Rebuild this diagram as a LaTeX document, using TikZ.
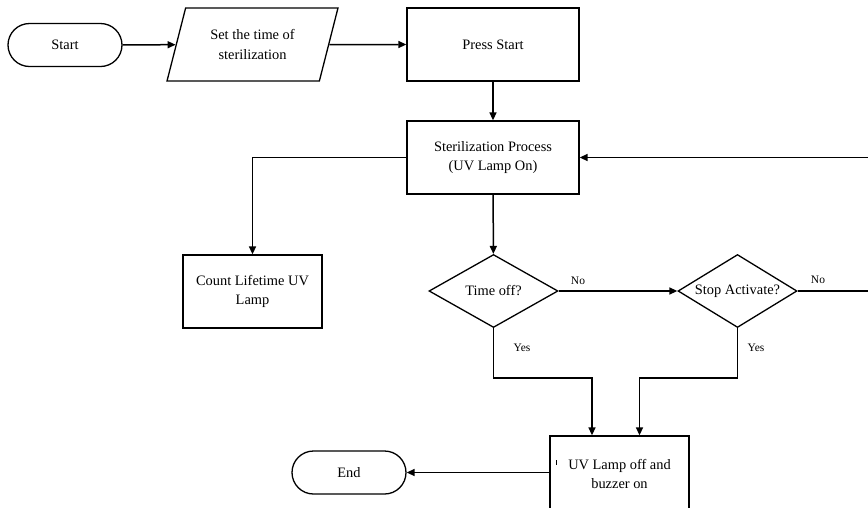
\documentclass[tikz,border=0pt]{standalone}
\usepackage{fontspec}
\setmainfont{Liberation Serif}
\usetikzlibrary{shapes.geometric,shapes.misc,arrows.meta}

\tikzset{
  base/.style={draw, line width=1.3pt, inner sep=2pt, align=center,
    font=\fontsize{14.4}{19.5}\selectfont},
  terminal/.style={base, rounded rectangle, minimum width=118pt, minimum height=43pt},
  process/.style={base, rectangle, minimum width=#1, minimum height=73pt},
  process/.default=172pt,
  io/.style={base, trapezium, trapezium left angle=70, trapezium right angle=110,
    trapezium stretches=true, minimum width=171pt, minimum height=73pt},
  decision/.style={base, diamond, inner sep=0pt, minimum height=73pt},
  flow/.style={line width=1.5pt, -{Triangle[length=8pt,width=7pt]}},
  lbl/.style={font=\fontsize{11.5}{13}\selectfont, inner sep=0pt}
}
% text of zero width, so a diamond keeps the size it is given
\newcommand{\slim}[1]{\makebox[0pt]{#1}}

\begin{document}
\begin{tikzpicture}[x=1pt,y=-1pt]
  \useasboundingbox (0,0) rectangle (868,507);

  % nodes
  \node[terminal] (start) at (65,45) {Start};
  \node[io] (set) at (252.5,44.5) {Set the time of\\sterilization};
  \node[process] (press) at (493,44.5) {Press Start};
  \node[process] (proc) at (493,157.5) {Sterilization Process\\(UV Lamp On)};
  \node[process=139pt] (count) at (252.5,291.5) {Count Lifetime UV\\Lamp};
  \node[decision, minimum width=129pt] (timeoff) at (493.5,291) {\slim{Time off?}};
  \node[decision, minimum width=119pt] (stop) at (737.5,291) {\slim{Stop Activate?}};
  \node[process=139pt, minimum height=76pt] (uv) at (619.5,474) {UV Lamp off and\\buzzer on};
  \node[terminal] (end) at (349,472.5) {End};

  % loop back from the stop test, running past the right margin
  \coordinate (edgeLow) at (880,291);
  \coordinate (edgeHigh) at (880,157.5);

  % labels
  \node[lbl] (noA) at (578,281) {No};
  \node[lbl] (noB) at (818,280) {No};
  \node[lbl] (yesA) at (522,348) {Yes};
  \node[lbl] (yesB) at (756,348) {Yes};

  % connectors
  \draw[flow] (start) -- (set);
  \draw[flow] (set) -- (press);
  \draw[flow] (press) -- (proc);
  \draw[flow] (proc.west) -| (count.north);
  \draw[flow] (proc) -- (timeoff);
  \draw[flow] (timeoff) -- (stop);
  \draw[flow] (stop.east) -- (edgeLow) -- (edgeHigh) -- (proc.east);
  \draw[flow] (timeoff.south) -- ++(0,50) -| ([xshift=-27.5pt]uv.north);
  \draw[flow] (stop.south) -- ++(0,50) -| ([xshift=20pt]uv.north);
  \draw[flow] (uv.west |- end.east) -- (end.east);

  % small stray mark inside the last box
  \draw[line width=0.9pt] (556,460) -- (556,465);
\end{tikzpicture}
\end{document}
